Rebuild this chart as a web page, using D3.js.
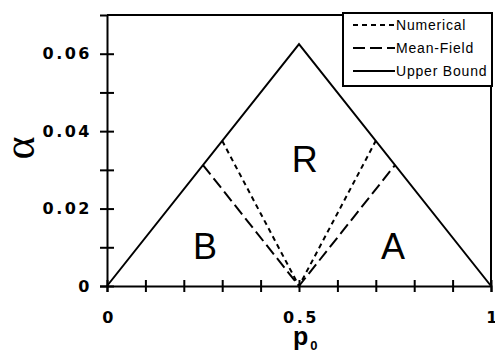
<!DOCTYPE html>
<meta charset="utf-8">
<script src="https://d3js.org/d3.v7.min.js"></script>
<style>
  body { margin: 0; background: #fff; }
  svg { display: block; }
</style>
<svg width="495" height="354"></svg>
<script>
// data
var boundP = [0, 0.5, 1];
var boundA = [0, 0.0625, 0];
var numP = [0.30, 0.5, 0.70];
var numA = [0.0375, 0, 0.0375];
var mfP = [0.25, 0.5, 0.75];
var mfA = [0.03125, 0, 0.03125];
var xMajor = [0, 0.5, 1];
var xMinor = [0.1, 0.2, 0.3, 0.4, 0.6, 0.7, 0.8, 0.9];
var yMajor = [0, 0.02, 0.04, 0.06];
var yMinor = [0.01, 0.03, 0.05];
var regions = [{ name: "R", p: 0.515, a: 0.0295 }, { name: "B", p: 0.255, a: 0.0069 }, { name: "A", p: 0.745, a: 0.0069 }];
var legendNames = ["Numerical", "Mean-Field", "Upper Bound"];
var legendDash = ["5,4", "12,5", null];

var svg = d3.select("svg"),
    margin = { top: 15, right: 4, bottom: 68, left: 107 },
    width = +svg.attr("width") - margin.left - margin.right,
    height = +svg.attr("height") - margin.top - margin.bottom,
    g = svg.append("g").attr("transform", "translate(" + margin.left + "," + margin.top + ")");

var x = d3.scaleLinear().domain([0, 1]).range([0, width]);
var y = d3.scaleLinear().domain([0, 0.07]).range([height, 0]);

var fmt = function (d) { return d === 0 ? "0" : String(+d.toFixed(2)); };
var tickFont = "'DejaVu Sans', Verdana, sans-serif";

// frame top + right
g.append("path")
    .attr("d", "M0,0H" + width + "V" + height)
    .attr("fill", "none").attr("stroke", "#000").attr("stroke-width", 2);

// x axis
var xa = g.append("g").attr("transform", "translate(0," + height + ")")
    .call(d3.axisBottom(x).tickValues(xMajor.concat(xMinor)).tickFormat(function (d) { return xMajor.indexOf(d) >= 0 ? fmt(d) : ""; }).tickSize(6));
xa.select(".domain").attr("stroke-width", 2);
xa.selectAll(".tick line").attr("y1", -6).attr("y2", 6).attr("stroke-width", 2);
xa.selectAll(".tick text").attr("font-family", tickFont)
    .attr("font-weight", "bold").attr("font-size", 16).attr("letter-spacing", 2.5)
    .attr("y", 37).attr("dy", null).attr("dx", 1.5);

// y axis
var ya = g.append("g")
    .call(d3.axisLeft(y).tickValues(yMajor.concat(yMinor)).tickFormat(function (d) { return yMajor.indexOf(d) >= 0 ? fmt(d) : ""; }).tickSize(7));
ya.select(".domain").attr("stroke-width", 2);
ya.selectAll(".tick line").attr("x1", 7).attr("x2", -7).attr("stroke-width", 2);
ya.selectAll(".tick text").attr("font-family", tickFont)
    .attr("font-weight", "bold").attr("font-size", 16).attr("letter-spacing", 2.5)
    .attr("x", -15);

// lines
var line = d3.line().x(function (d) { return x(d[0]); }).y(function (d) { return y(d[1]); });
g.append("path").datum(d3.zip(boundP, boundA)).attr("d", line)
    .attr("fill", "none").attr("stroke", "#000").attr("stroke-width", 2);
g.append("path").datum(d3.zip(numP, numA)).attr("d", line)
    .attr("fill", "none").attr("stroke", "#000").attr("stroke-width", 2).attr("stroke-dasharray", "5,4");
g.append("path").datum(d3.zip(mfP, mfA)).attr("d", line)
    .attr("fill", "none").attr("stroke", "#000").attr("stroke-width", 2).attr("stroke-dasharray", "12,5");

// region letters
g.selectAll(".reg").data(regions).enter().append("text")
    .attr("x", function (d) { return x(d.p); })
    .attr("y", function (d) { return y(d.a); })
    .attr("text-anchor", "middle")
    .attr("font-family", "Arial, 'Liberation Sans', sans-serif")
    .attr("font-size", 36)
    .text(function (d) { return d.name; });

// axis titles
svg.append("text")
    .attr("transform", "translate(34,148) rotate(-90)")
    .attr("text-anchor", "middle")
    .attr("font-family", "'Liberation Serif', serif")
    .attr("font-size", 44)
    .text("α");
var xt = svg.append("text")
    .attr("x", 293).attr("y", 345)
    .attr("font-family", "Arial, 'Liberation Sans', sans-serif")
    .attr("font-weight", "bold").attr("font-size", 25);
xt.append("tspan").text("p");
xt.append("tspan").attr("font-size", 13).attr("dx", 2).attr("dy", 5).text("0");

// legend
var lg = svg.append("g").attr("transform", "translate(343,13)");
lg.append("rect").attr("width", 149).attr("height", 73)
    .attr("fill", "#fff").attr("stroke", "#000").attr("stroke-width", 2);
var item = lg.selectAll(".item").data(legendNames).enter().append("g")
    .attr("transform", function (d, i) { return "translate(0," + (12 + i * 23) + ")"; });
item.append("line").attr("x1", 10).attr("x2", 52)
    .attr("stroke", "#000").attr("stroke-width", 2)
    .attr("stroke-dasharray", function (d, i) { return legendDash[i]; });
item.append("text").attr("x", 53).attr("dy", "0.35em")
    .attr("font-family", "Arial, 'Liberation Sans', sans-serif")
    .attr("font-size", 14).attr("letter-spacing", 0.8)
    .text(function (d) { return d; });
</script>
